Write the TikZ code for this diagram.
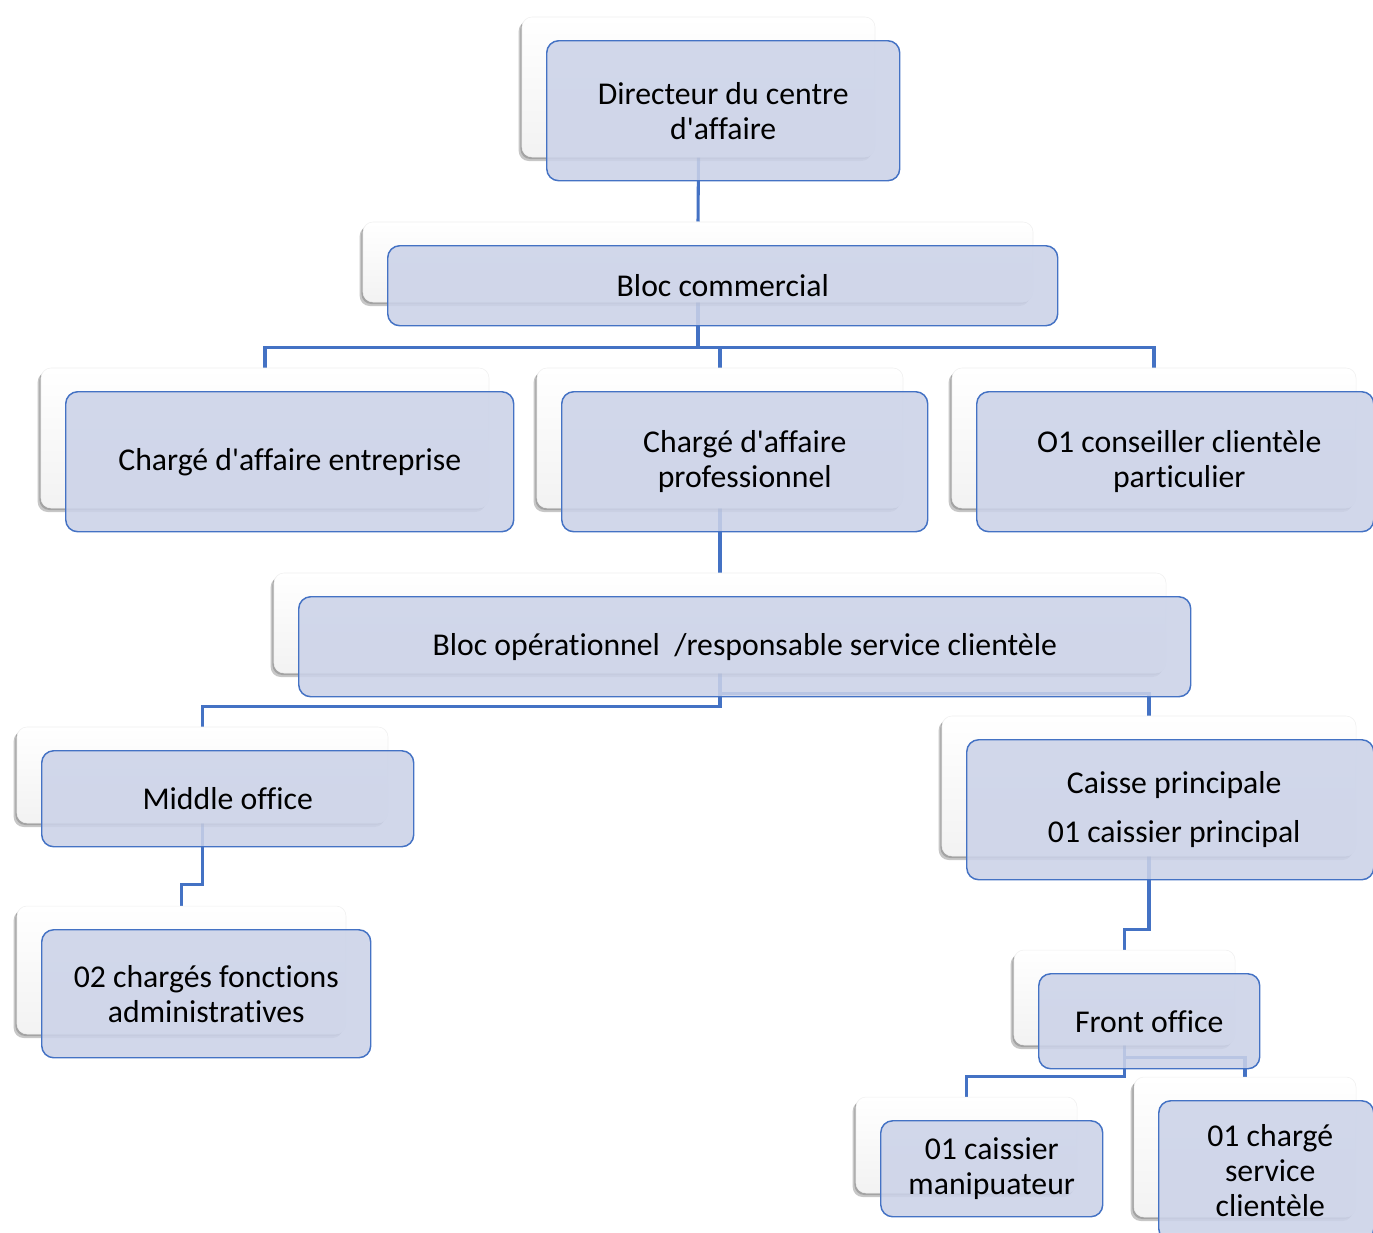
\documentclass[tikz,border=0pt]{standalone}
\usepackage{fontspec}
\setmainfont{Carlito}[Ligatures={TeXOff,CommonOff}]
\usetikzlibrary{shadows}
\pgfdeclarelayer{bg}\pgfdeclarelayer{front}\pgfsetlayers{bg,main,front}
\definecolor{lineblue}{RGB}{68,114,196}
\definecolor{boxfill}{RGB}{203,210,232}
\tikzset{
 wbox/.style={rectangle, rounded corners=7.5pt, draw=black!6, line width=0.4pt,
   top color=white, bottom color=black!5,
   drop shadow={shadow xshift=-1.2pt, shadow yshift=-1.5pt, opacity=0.18, fill=black},
   drop shadow={shadow xshift=-2.5pt, shadow yshift=-3pt, opacity=0.22, fill=black},
   inner sep=0pt},
 bbox/.style={rectangle, rounded corners=9pt, draw=lineblue, line width=1.1pt,
   fill=boxfill, fill opacity=0.87, draw opacity=1, inner sep=0pt},
 btext/.style={align=center, inner sep=0pt, font=\fontsize{23.8}{26.3}\selectfont},
 conn/.style={draw=lineblue, line width=2.3pt},
}
% #1 name, #2..#5 back box, #6 right edge of front box, #7 text shift (px), #8 text
\newcommand{\obox}[8]{%
 \node[wbox, minimum width={(#4-#2)*0.75pt}, minimum height={(#5-#3)*0.75pt}] (#1w) at ({(#2+#4)/2},{(#3+#5)/2}) {};
 \begin{pgfonlayer}{front}
 \node[bbox, minimum width={(#6-#2-24)*0.75pt}, minimum height={(#5-#3)*0.75pt}, anchor=north west] (#1) at ({#2+24},{#3+23}) {};
 \node[btext] (#1t) at ([xshift={#7*0.75pt}]#1.center) {#8};
 \end{pgfonlayer}}
\begin{document}
\begin{tikzpicture}[x=0.75pt, y=-0.75pt]
\useasboundingbox (0,0) rectangle (1373,1232);
\begin{pgfonlayer}{bg}
\fill[white] (0,0) rectangle (1373,1232);
\end{pgfonlayer}
\obox{dir}{522}{17}{875}{157}{899}{0}{Directeur du centre\\d'affaire}
\obox{bc}{363}{222}{1033}{302}{1057}{0}{Bloc commercial}
\obox{ce}{41}{368}{489}{508}{513}{0}{Chargé d'affaire entreprise}
\obox{cp}{537}{368}{903}{508}{927}{0}{Chargé d'affaire\\professionnel}
\obox{cc}{952}{368}{1356}{508}{1373}{4}{O1 conseiller clientèle\\particulier}
\obox{bo}{274}{573}{1166}{673}{1190}{0}{Bloc opérationnel\ \ /responsable service clientèle}
\obox{mo}{17}{727}{388}{823}{413}{0}{Middle office}
\obox{ca}{942}{716}{1356}{856}{1373}{4}{Caisse principale\\[10.5pt]01 caissier principal}
\obox{cz}{17}{906}{346}{1034}{370}{0}{02 chargés fonctions\\administratives}
\obox{fo}{1014}{950}{1235}{1045}{1259}{0}{Front office}
\obox{cm}{856}{1097}{1077}{1193}{1102}{0}{01 caissier\\manipuateur}
\obox{cs}{1134}{1077}{1356}{1217}{1373}{4}{01 chargé\\service\\clientèle}
\begin{pgfonlayer}{bg}
\draw[conn] (dirw.south) -- (bcw.north);
\draw[conn] (bcw.south) -- ++(0,45) -| (cew.north);
\draw[conn] (bcw.south) -- ++(0,45) -| (cpw.north);
\draw[conn] (bcw.south) -- ++(0,45) -| (ccw.north);
\draw[conn] (cpw.south) -- (bow.north);
\draw[conn] (bow.south) -- ++(0,33) -| (mow.north);
\draw[conn] (bow.south) -- ++(0,20) -| (caw.north);
\draw[conn] (mow.south) -- ++(0,61) -| (czw.north);
\draw[conn] (caw.south) -- ++(0,73) -| (fow.north);
\draw[conn] (fow.south) -- ++(0,31) -| (cmw.north);
\draw[conn] (fow.south) -- ++(0,12) -| (csw.north);
\end{pgfonlayer}
\end{tikzpicture}
\end{document}
